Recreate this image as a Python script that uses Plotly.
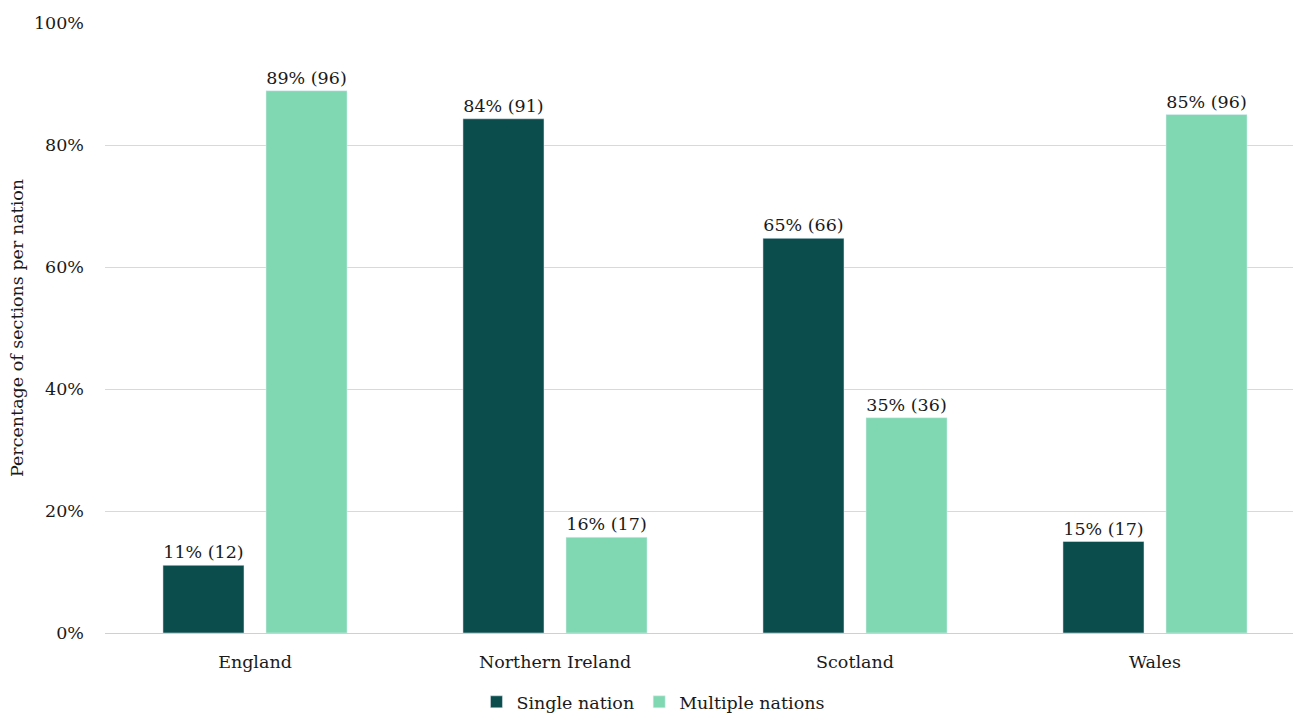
import plotly.graph_objects as go

nations = ["England", "Northern Ireland", "Scotland", "Wales"]
single_pct = [11.1, 84.3, 64.7, 15.0]
single_n = [12, 91, 66, 17]
multi_pct = [88.9, 15.7, 35.3, 85.0]
multi_n = [96, 17, 36, 96]
y_ticks = [0, 20, 40, 60, 80, 100]
y_tick_labels = ["0%", "20%", "40%", "60%", "80%", "100%"]

FONT = "DejaVu Serif"
SIZE = 17.5
TXT = "#1a1a1a"

def labels(p, n):
    return [f"{round(a):.0f}% ({b})" for a, b in zip(p, n)]

fig = go.Figure()
fig.add_trace(go.Bar(name="Single nation", x=nations, y=single_pct,
                     text=labels(single_pct, single_n), textposition="outside",
                     marker_color="#0b4d4c", cliponaxis=False,
                     textfont=dict(family=FONT, size=SIZE, color=TXT)))
fig.add_trace(go.Bar(name="Multiple nations", x=nations, y=multi_pct,
                     text=labels(multi_pct, multi_n), textposition="outside",
                     marker_color="#80d8b2", cliponaxis=False,
                     textfont=dict(family=FONT, size=SIZE, color=TXT)))

fig.update_layout(
    width=1293, height=713,
    margin=dict(l=105, r=0, t=23, b=80, autoexpand=False),
    plot_bgcolor="white", paper_bgcolor="white",
    barmode="group", bargap=0.313, bargroupgap=0.2136,
    font=dict(family=FONT, size=SIZE, color=TXT),
    legend=dict(orientation="h", xref="container", x=0.505, xanchor="center",
                yref="paper", y=-0.113, yanchor="middle",
                font=dict(family=FONT, size=SIZE, color=TXT),
                itemwidth=30, traceorder="normal"),
)
fig.update_xaxes(range=[-0.5, 3.46], showgrid=False, showline=False,
                 ticks="", ticklabelstandoff=16, tickangle=0,
                 tickfont=dict(family=FONT, size=SIZE, color=TXT))
fig.update_yaxes(range=[0, 100], tickvals=y_ticks, ticktext=y_tick_labels,
                 showgrid=True, gridcolor="#d9d9d9", gridwidth=1,
                 zeroline=True, zerolinecolor="#d0d0d0", zerolinewidth=1,
                 showline=False, ticks="", ticklabelstandoff=20,
                 tickfont=dict(family=FONT, size=SIZE, color=TXT),
                 title=dict(text="Percentage of sections per nation",
                            font=dict(family=FONT, size=SIZE, color=TXT), standoff=5))

fig.write_html("out.html")
